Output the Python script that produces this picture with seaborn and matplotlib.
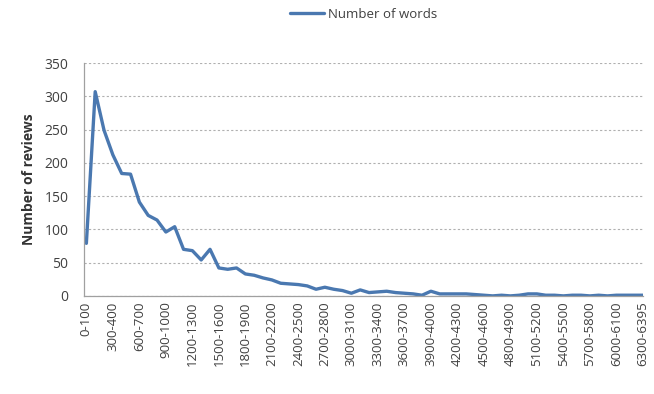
import numpy as np
import pandas as pd
import matplotlib
matplotlib.use('Agg')
import matplotlib.pyplot as plt
import seaborn as sns

# Word-count bins (0-100, 100-200, ..., 6300-6395)
bin_starts = list(range(0, 6300, 100))
bin_labels = [f'{s}-{s + 100}' for s in bin_starts] + ['6300-6395']

reviews = [79, 307, 249, 212, 184, 183, 141, 121, 114, 96,
           104, 70, 68, 54, 70, 42, 40, 42, 33, 31,
           27, 24, 19, 18, 17, 15, 10, 13, 10, 8,
           4, 9, 5, 6, 7, 5, 4, 3, 1, 7,
           3, 3, 3, 3, 2, 1, 0, 1, 0, 1,
           3, 3, 1, 1, 0, 1, 1, 0, 1, 0,
           1, 1, 1, 1]

df = pd.DataFrame({'idx': np.arange(len(bin_labels)), 'bin': bin_labels,
                   'reviews': reviews})

sns.set_style('white')
plt.rcParams['font.family'] = ['Open Sans', 'DejaVu Sans']

fig = plt.figure(figsize=(6.54, 3.94), dpi=100)
ax = fig.add_axes([0.128, 0.249, 0.855, 0.591])

sns.lineplot(data=df, x='idx', y='reviews', color='#4A78B0', linewidth=2.4,
             label='Number of words', ax=ax)

ax.set_ylim(0, 350)
ax.set_yticks(range(0, 351, 50))
ax.set_xlim(-0.3, 63)
ax.set_xticks(df['idx'][::3])
ax.set_xticklabels(df['bin'][::3], rotation=90, fontsize=9.5, color='#404040')
ax.tick_params(axis='y', labelsize=10, labelcolor='#404040', length=0, pad=11)
ax.tick_params(axis='x', length=0, pad=4)

ax.grid(axis='y', linestyle=(0, (2, 2)), color='#b0b0b0', linewidth=0.8)
for side in ['top', 'right']:
    ax.spines[side].set_visible(False)
for side in ['left', 'bottom']:
    ax.spines[side].set_color('#a0a0a0')
    ax.spines[side].set_linewidth(0.9)

ax.set_xlabel('')
ax.set_ylabel('Number of reviews', fontsize=10, fontweight='bold', color='#333333', labelpad=6)

ax.legend(loc='lower center', bbox_to_anchor=(0.5, 1.13), frameon=False,
          fontsize=9.5, handlelength=2.6, handletextpad=0.3, labelcolor='#404040')

fig.savefig('out.png', dpi=100)
